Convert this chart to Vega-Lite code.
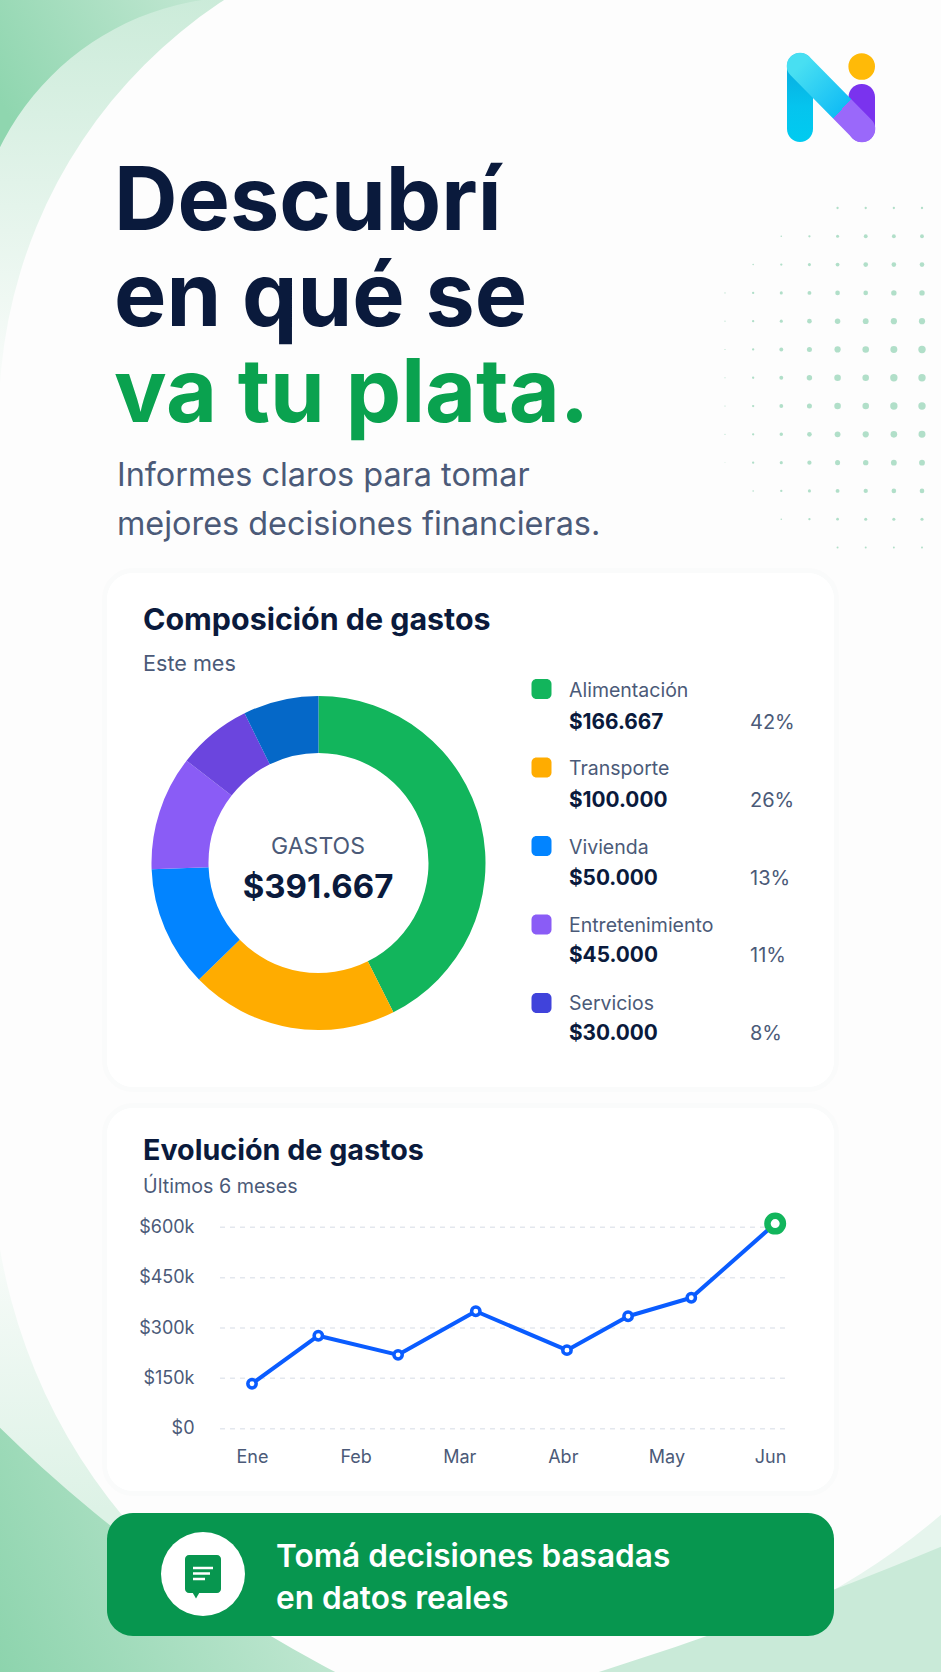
{
"$schema":"https://vega.github.io/schema/vega-lite/v6.json",
"description":"Poster: composicion y evolucion de gastos",
"autosize":{"type":"none"},
"width":941,"height":1672,"padding":0,
"background":"#FDFDFD",
"config":{"view":{"stroke":null},"text":{"font":"Inter"},"axis":{"labelFont":"Inter"}},
"datasets":{
"porciones":[
{"segmento":"Alimentación","parte":42.6,"orden":1},
{"segmento":"Transporte","parte":20.1,"orden":2},
{"segmento":"Vivienda","parte":11.7,"orden":3},
{"segmento":"Entretenimiento","parte":11.1,"orden":4},
{"segmento":"Servicios A","parte":7.2,"orden":5},
{"segmento":"Servicios B","parte":7.3,"orden":6}],
"gastos":[
{"categoria":"Alimentación","monto":"$166.667","porcentaje":"42%"},
{"categoria":"Transporte","monto":"$100.000","porcentaje":"26%"},
{"categoria":"Vivienda","monto":"$50.000","porcentaje":"13%"},
{"categoria":"Entretenimiento","monto":"$45.000","porcentaje":"11%"},
{"categoria":"Servicios","monto":"$30.000","porcentaje":"8%"}],
"serie":[
{"mes":0,"gasto":134000},{"mes":0.64,"gasto":277000},{"mes":1.41,"gasto":220000},{"mes":2.16,"gasto":350000},
{"mes":3.04,"gasto":234000},{"mes":3.63,"gasto":335000},{"mes":4.24,"gasto":390000},{"mes":5.05,"gasto":611000}],
"marcas":[{"valor":0,"extremo":-0.309},{"valor":0,"extremo":5.193},{"valor":150000,"extremo":-0.309},{"valor":150000,"extremo":5.193},{"valor":300000,"extremo":-0.309},{"valor":300000,"extremo":5.193},{"valor":450000,"extremo":-0.309},{"valor":450000,"extremo":5.193},{"valor":600000,"extremo":-0.309},{"valor":600000,"extremo":5.193}],
"puntos":[
{"c":5,"f":1,"r":3},{"c":6,"f":1,"r":3},{"c":7,"f":1,"r":3},{"c":8,"f":1,"r":3},
{"c":3,"f":2,"r":2},{"c":4,"f":2,"r":3},{"c":5,"f":2,"r":4},{"c":6,"f":2,"r":5},{"c":7,"f":2,"r":5},{"c":8,"f":2,"r":5},
{"c":2,"f":3,"r":2},{"c":3,"f":3,"r":3},{"c":4,"f":3,"r":4},{"c":5,"f":3,"r":5},{"c":6,"f":3,"r":6},{"c":7,"f":3,"r":6},{"c":8,"f":3,"r":6},
{"c":1,"f":4,"r":1.5},{"c":2,"f":4,"r":3},{"c":3,"f":4,"r":4},{"c":4,"f":4,"r":5},{"c":5,"f":4,"r":6},{"c":6,"f":4,"r":6},{"c":7,"f":4,"r":7},{"c":8,"f":4,"r":7},
{"c":1,"f":5,"r":1.5},{"c":2,"f":5,"r":3},{"c":3,"f":5,"r":4},{"c":4,"f":5,"r":6},{"c":5,"f":5,"r":7},{"c":6,"f":5,"r":7.5},{"c":7,"f":5,"r":8},{"c":8,"f":5,"r":8},
{"c":1,"f":6,"r":1.5},{"c":2,"f":6,"r":3},{"c":3,"f":6,"r":5},{"c":4,"f":6,"r":6.5},{"c":5,"f":6,"r":8},{"c":6,"f":6,"r":8.5},{"c":7,"f":6,"r":9},{"c":8,"f":6,"r":9.5},
{"c":1,"f":7,"r":1.5},{"c":2,"f":7,"r":3},{"c":3,"f":7,"r":5},{"c":4,"f":7,"r":7},{"c":5,"f":7,"r":8.5},{"c":6,"f":7,"r":8.5},{"c":7,"f":7,"r":9.5},{"c":8,"f":7,"r":9.5},
{"c":1,"f":8,"r":1.5},{"c":2,"f":8,"r":3},{"c":3,"f":8,"r":5},{"c":4,"f":8,"r":6.5},{"c":5,"f":8,"r":8.5},{"c":6,"f":8,"r":8.5},{"c":7,"f":8,"r":9.5},{"c":8,"f":8,"r":9.5},
{"c":1,"f":9,"r":1.5},{"c":2,"f":9,"r":3},{"c":3,"f":9,"r":4.5},{"c":4,"f":9,"r":6},{"c":5,"f":9,"r":7.5},{"c":6,"f":9,"r":8},{"c":7,"f":9,"r":8.5},{"c":8,"f":9,"r":9},
{"c":1,"f":10,"r":1},{"c":2,"f":10,"r":3},{"c":3,"f":10,"r":4},{"c":4,"f":10,"r":5.5},{"c":5,"f":10,"r":6.5},{"c":6,"f":10,"r":7},{"c":7,"f":10,"r":7.5},{"c":8,"f":10,"r":7.5},
{"c":2,"f":11,"r":2},{"c":3,"f":11,"r":3},{"c":4,"f":11,"r":4},{"c":5,"f":11,"r":5},{"c":6,"f":11,"r":5.5},{"c":7,"f":11,"r":6},{"c":8,"f":11,"r":6},
{"c":3,"f":12,"r":2},{"c":4,"f":12,"r":3},{"c":5,"f":12,"r":3.5},{"c":6,"f":12,"r":4},{"c":7,"f":12,"r":4},{"c":8,"f":12,"r":4},
{"c":5,"f":13,"r":2.5},{"c":6,"f":13,"r":2.5},{"c":7,"f":13,"r":2.5},{"c":8,"f":13,"r":2.5}]
},
"resolve":{"scale":{"x":"independent","y":"independent","color":"independent"}},
"layer":[
{"data":{"values":[{"fondo":"velo superior"}]},
 "mark":{"type":"arc","innerRadius":497,"outerRadius":750,"theta":4.712,"theta2":6.283,"fill":{"gradient":"linear","x1":0.5,"y1":0.44,"x2":0.5,"y2":1,"stops":[{"offset":0,"color":"#CBEBD9"},{"offset":1,"color":"#FDFDFD"}]}},
 "encoding":{"x":{"datum":"c","type":"nominal","axis":null,"scale":{"type":"point","domain":["c"],"range":[495,497]}},"y":{"datum":"c","type":"nominal","axis":null,"scale":{"type":"point","domain":["c"],"range":[415,417]}}}},
{"data":{"values":[{"fondo":"esquina superior"}]},
 "mark":{"type":"arc","innerRadius":270,"outerRadius":470,"theta":4.712,"theta2":6.283,"fill":{"gradient":"linear","x1":0.485,"y1":0.646,"x2":0.889,"y2":0.432,"stops":[{"offset":0,"color":"#8FD6AF"},{"offset":1,"color":"#BFE6D0"}]}},
 "encoding":{"x":{"datum":"c","type":"nominal","axis":null,"scale":{"type":"point","domain":["c"],"range":[241,243]}},"y":{"datum":"c","type":"nominal","axis":null,"scale":{"type":"point","domain":["c"],"range":[266,268]}}}},
{"data":{"values":[{"fondo":"velo inferior izquierdo"}]},
 "mark":{"type":"arc","innerRadius":567,"outerRadius":800,"theta":3.32,"theta2":4.712,"fill":{"gradient":"linear","x1":0.5,"y1":0.05,"x2":0.5,"y2":0.45,"stops":[{"offset":0,"color":"#FDFDFD"},{"offset":1,"color":"#DDF2E6"}]}},
 "encoding":{"x":{"datum":"c","type":"nominal","axis":null,"scale":{"type":"point","domain":["c"],"range":[558,560]}},"y":{"datum":"c","type":"nominal","axis":null,"scale":{"type":"point","domain":["c"],"range":[1153,1155]}}}},
{"data":{"values":[{"fondo":"esquina inferior izquierda"}]},
 "mark":{"type":"arc","innerRadius":1412,"outerRadius":2112,"theta":3.142,"theta2":4.712,"fill":{"gradient":"linear","x1":0.531,"y1":0.592,"x2":0.7,"y2":0.52,"stops":[{"offset":0,"color":"#8DD4AD"},{"offset":1,"color":"#CBEBD9"}]}},
 "encoding":{"x":{"datum":"c","type":"nominal","axis":null,"scale":{"type":"point","domain":["c"],"range":[989,991]}},"y":{"datum":"c","type":"nominal","axis":null,"scale":{"type":"point","domain":["c"],"range":[420,422]}}}},
{"data":{"values":[{"fondo":"velo inferior derecho"}]},
 "mark":{"type":"arc","innerRadius":700,"outerRadius":1000,"theta":1.92,"theta2":2.88,"fill":"#E6F5ED"},
 "encoding":{"x":{"datum":"c","type":"nominal","axis":null,"scale":{"type":"point","domain":["c"],"range":[486,488]}},"y":{"datum":"c","type":"nominal","axis":null,"scale":{"type":"point","domain":["c"],"range":[981,983]}}}},
{"data":{"values":[{"fondo":"esquina inferior derecha"}]},
 "mark":{"type":"arc","innerRadius":4027,"outerRadius":4400,"theta":2.62,"theta2":2.97,"fill":"#C9EAD8"},
 "encoding":{"x":{"datum":"c","type":"nominal","axis":null,"scale":{"type":"point","domain":["c"],"range":[-615,-613]}},"y":{"datum":"c","type":"nominal","axis":null,"scale":{"type":"point","domain":["c"],"range":[-2169,-2167]}}}},

{"data":{"name":"puntos"},
 "mark":{"type":"circle","color":"#A9DCC3","opacity":0.9},
 "encoding":{
  "x":{"field":"c","type":"quantitative","axis":null,"scale":{"domain":[1,8],"range":[725,922]}},
  "y":{"field":"f","type":"quantitative","axis":null,"scale":{"domain":[1,13],"range":[208,547.5]}},
  "size":{"field":"r","type":"quantitative","legend":null,"scale":{"type":"pow","exponent":2,"domain":[0,10],"range":[0,60]}}}},

{"data":{"values":[{"trazo":"palo izquierdo"}]},
 "mark":{"type":"rect","cornerRadius":13,"fill":{"gradient":"linear","x1":0,"y1":0,"x2":0,"y2":1,"stops":[{"offset":0,"color":"#0AA6DC"},{"offset":0.6,"color":"#05C4EE"},{"offset":1,"color":"#00CBF0"}]}},
 "encoding":{"x":{"datum":0,"type":"quantitative","axis":null,"scale":{"domain":[0,1],"range":[787,813]}},"x2":{"datum":1},"y":{"datum":0,"type":"quantitative","axis":null,"scale":{"domain":[0,1],"range":[53,142]}},"y2":{"datum":1}}},
{"data":{"values":[{"trazo":"palo derecho"}]},
 "mark":{"type":"rect","cornerRadius":13,"fill":"#7A33EE"},
 "encoding":{"x":{"datum":0,"type":"quantitative","axis":null,"scale":{"domain":[0,1],"range":[848.5,875]}},"x2":{"datum":1},"y":{"datum":0,"type":"quantitative","axis":null,"scale":{"domain":[0,1],"range":[84,142]}},"y2":{"datum":1}}},
{"data":{"values":[{"u":0,"v":0},{"u":1,"v":1}]},
 "mark":{"type":"line","strokeWidth":26.5,"strokeCap":"round","stroke":{"gradient":"linear","x1":0,"y1":0,"x2":1,"y2":1,"stops":[{"offset":0,"color":"#48DFF2"},{"offset":0.68,"color":"#12BDF5"},{"offset":0.68,"color":"#9A68FA"},{"offset":1,"color":"#9A68FA"}]}},
 "encoding":{"x":{"field":"u","type":"quantitative","axis":null,"scale":{"domain":[0,1],"range":[800,862]}},"y":{"field":"v","type":"quantitative","axis":null,"scale":{"domain":[0,1],"range":[66,129]}}}},
{"data":{"values":[{"trazo":"punto del logo"}]},
 "mark":{"type":"circle","color":"#FFBA08","opacity":1,"size":708},
 "encoding":{"x":{"datum":0,"type":"quantitative","axis":null,"scale":{"domain":[0,1],"range":[861.7,862.7]}},"y":{"datum":0,"type":"quantitative","axis":null,"scale":{"domain":[0,1],"range":[66.5,67.5]}}}},

{"data":{"values":[{"linea":1,"texto":"Descubrí"},{"linea":2,"texto":"en qué se"},{"linea":3,"texto":"va tu plata."}]},
 "mark":{"type":"text","align":"left","baseline":"alphabetic","fontSize":88,"fontWeight":700},
 "encoding":{"x":{"datum":0,"type":"quantitative","axis":null,"scale":{"domain":[0,1],"range":[114,115]}},
  "y":{"field":"linea","type":"quantitative","axis":null,"scale":{"domain":[1,3],"range":[230,422]}},
  "text":{"field":"texto"},
  "color":{"condition":{"test":"datum.linea==3","value":"#0AA24F"},"value":"#0A1A3C"}}},
{"data":{"values":[{"linea":1,"texto":"Informes claros para tomar"},{"linea":2,"texto":"mejores decisiones financieras."}]},
 "mark":{"type":"text","align":"left","baseline":"alphabetic","fontSize":32.4,"color":"#4B5A78"},
 "encoding":{"x":{"datum":0,"type":"quantitative","axis":null,"scale":{"domain":[0,1],"range":[117,118]}},
  "y":{"field":"linea","type":"quantitative","axis":null,"scale":{"domain":[1,2],"range":[486,535]}},
  "text":{"field":"texto"}}},

{"data":{"values":[{"tarjeta":"Composición de gastos"}]},
 "mark":{"type":"rect","cornerRadius":26,"fill":"#FFFFFF","stroke":"#1E3A5A","strokeOpacity":0.012,"strokeWidth":10},
 "encoding":{"x":{"datum":0,"type":"quantitative","axis":null,"scale":{"domain":[0,1],"range":[107,834]}},"x2":{"datum":1},"y":{"datum":0,"type":"quantitative","axis":null,"scale":{"domain":[0,1],"range":[573,1087]}},"y2":{"datum":1}}},
{"data":{"values":[{"tarjeta":"Composición de gastos"}]},
 "mark":{"type":"rect","cornerRadius":26,"fill":"#FFFFFF"},
 "encoding":{"x":{"datum":0,"type":"quantitative","axis":null,"scale":{"domain":[0,1],"range":[107,834]}},"x2":{"datum":1},"y":{"datum":0,"type":"quantitative","axis":null,"scale":{"domain":[0,1],"range":[573,1087]}},"y2":{"datum":1}}},
{"data":{"values":[{"tarjeta":"Evolución de gastos"}]},
 "mark":{"type":"rect","cornerRadius":26,"fill":"#FFFFFF","stroke":"#1E3A5A","strokeOpacity":0.012,"strokeWidth":10},
 "encoding":{"x":{"datum":0,"type":"quantitative","axis":null,"scale":{"domain":[0,1],"range":[107,834]}},"x2":{"datum":1},"y":{"datum":0,"type":"quantitative","axis":null,"scale":{"domain":[0,1],"range":[1108,1491]}},"y2":{"datum":1}}},
{"data":{"values":[{"tarjeta":"Evolución de gastos"}]},
 "mark":{"type":"rect","cornerRadius":26,"fill":"#FFFFFF"},
 "encoding":{"x":{"datum":0,"type":"quantitative","axis":null,"scale":{"domain":[0,1],"range":[107,834]}},"x2":{"datum":1},"y":{"datum":0,"type":"quantitative","axis":null,"scale":{"domain":[0,1],"range":[1108,1491]}},"y2":{"datum":1}}},
{"data":{"values":[{"tarjeta":"Tomá decisiones"}]},
 "mark":{"type":"rect","cornerRadius":26,"fill":"#07964F"},
 "encoding":{"x":{"datum":0,"type":"quantitative","axis":null,"scale":{"domain":[0,1],"range":[107,834]}},"x2":{"datum":1},"y":{"datum":0,"type":"quantitative","axis":null,"scale":{"domain":[0,1],"range":[1513,1636]}},"y2":{"datum":1}}},

{"data":{"values":[{"texto":"Composición de gastos"}]},
 "mark":{"type":"text","align":"left","baseline":"alphabetic","fontSize":30.4,"fontWeight":700,"color":"#0A1A3C"},
 "encoding":{"x":{"datum":0,"type":"quantitative","axis":null,"scale":{"domain":[0,1],"range":[143,144]}},"y":{"datum":0,"type":"quantitative","axis":null,"scale":{"domain":[0,1],"range":[630,631]}},"text":{"field":"texto"}}},
{"data":{"values":[{"texto":"Este mes"}]},
 "mark":{"type":"text","align":"left","baseline":"alphabetic","fontSize":21.6,"color":"#4B5A78"},
 "encoding":{"x":{"datum":0,"type":"quantitative","axis":null,"scale":{"domain":[0,1],"range":[143,144]}},"y":{"datum":0,"type":"quantitative","axis":null,"scale":{"domain":[0,1],"range":[671,672]}},"text":{"field":"texto"}}},

{"data":{"name":"porciones"},
 "mark":{"type":"arc","innerRadius":110,"outerRadius":167},
 "encoding":{
  "x":{"datum":"c","type":"nominal","axis":null,"scale":{"type":"point","domain":["c"],"range":[317.5,319.5]}},
  "y":{"datum":"c","type":"nominal","axis":null,"scale":{"type":"point","domain":["c"],"range":[862,864]}},
  "theta":{"field":"parte","type":"quantitative","stack":true},
  "order":{"field":"orden","type":"quantitative"},
  "color":{"field":"segmento","type":"nominal","legend":null,"scale":{"domain":["Alimentación","Transporte","Vivienda","Entretenimiento","Servicios A","Servicios B"],"range":["#12B55C","#FFAC00","#0284FF","#8A5CF6","#6B45DE","#0568C8"]}}}},
{"data":{"values":[{"texto":"GASTOS"}]},
 "mark":{"type":"text","align":"center","baseline":"alphabetic","fontSize":23,"color":"#4B5A78"},
 "encoding":{"x":{"datum":0,"type":"quantitative","axis":null,"scale":{"domain":[0,1],"range":[318,319]}},"y":{"datum":0,"type":"quantitative","axis":null,"scale":{"domain":[0,1],"range":[854,855]}},"text":{"field":"texto"}}},
{"data":{"values":[{"texto":"$391.667"}]},
 "mark":{"type":"text","align":"center","baseline":"alphabetic","fontSize":33,"fontWeight":700,"color":"#0A1A3C"},
 "encoding":{"x":{"datum":0,"type":"quantitative","axis":null,"scale":{"domain":[0,1],"range":[318,319]}},"y":{"datum":0,"type":"quantitative","axis":null,"scale":{"domain":[0,1],"range":[898,899]}},"text":{"field":"texto"}}},

{"data":{"name":"gastos"},
 "mark":{"type":"rect","cornerRadius":5},
 "encoding":{
  "x":{"datum":0,"type":"quantitative","axis":null,"scale":{"domain":[0,1],"range":[531.5,551.5]}},
  "x2":{"datum":1},
  "y":{"field":"categoria","type":"nominal","axis":null,"sort":null,"scale":{"type":"band","paddingInner":0.745,"paddingOuter":0,"range":[679,1013]}},
  "color":{"field":"categoria","type":"nominal","legend":null,"scale":{"domain":["Alimentación","Transporte","Vivienda","Entretenimiento","Servicios"],"range":["#12B55C","#FFAC00","#0284FF","#8A5CF6","#4043DB"]}}}},
{"data":{"name":"gastos"},
 "mark":{"type":"text","align":"left","baseline":"alphabetic","fontSize":19.5,"color":"#4B5A78"},
 "encoding":{
  "x":{"datum":0,"type":"quantitative","axis":null,"scale":{"domain":[0,1],"range":[569,570]}},
  "y":{"field":"categoria","type":"nominal","axis":null,"sort":null,"scale":{"type":"point","padding":0,"range":[697,1010]}},
  "text":{"field":"categoria"}}},
{"data":{"name":"gastos"},
 "mark":{"type":"text","align":"left","baseline":"alphabetic","fontSize":20.8,"fontWeight":700,"color":"#0A1A3C"},
 "encoding":{
  "x":{"datum":0,"type":"quantitative","axis":null,"scale":{"domain":[0,1],"range":[569,570]}},
  "y":{"field":"categoria","type":"nominal","axis":null,"sort":null,"scale":{"type":"point","padding":0,"range":[729,1040]}},
  "text":{"field":"monto"}}},
{"data":{"name":"gastos"},
 "mark":{"type":"text","align":"left","baseline":"alphabetic","fontSize":20,"color":"#4B5A78"},
 "encoding":{
  "x":{"datum":0,"type":"quantitative","axis":null,"scale":{"domain":[0,1],"range":[750,751]}},
  "y":{"field":"categoria","type":"nominal","axis":null,"sort":null,"scale":{"type":"point","padding":0,"range":[729,1040]}},
  "text":{"field":"porcentaje"}}},

{"data":{"values":[{"texto":"Evolución de gastos"}]},
 "mark":{"type":"text","align":"left","baseline":"alphabetic","fontSize":28.7,"fontWeight":700,"color":"#0A1A3C"},
 "encoding":{"x":{"datum":0,"type":"quantitative","axis":null,"scale":{"domain":[0,1],"range":[143,144]}},"y":{"datum":0,"type":"quantitative","axis":null,"scale":{"domain":[0,1],"range":[1160,1161]}},"text":{"field":"texto"}}},
{"data":{"values":[{"texto":"Últimos 6 meses"}]},
 "mark":{"type":"text","align":"left","baseline":"alphabetic","fontSize":19.7,"color":"#4B5A78"},
 "encoding":{"x":{"datum":0,"type":"quantitative","axis":null,"scale":{"domain":[0,1],"range":[143,144]}},"y":{"datum":0,"type":"quantitative","axis":null,"scale":{"domain":[0,1],"range":[1193,1194]}},"text":{"field":"texto"}}},

{"data":{"name":"marcas"},
 "mark":{"type":"line","color":"#E3E7EE","strokeWidth":1.5,"strokeDash":[5,5]},
 "encoding":{
  "x":{"field":"extremo","type":"quantitative","axis":null,"scale":{"domain":[-0.309,5.193],"range":[220,790]}},
  "detail":{"field":"valor","type":"nominal"},
  "y":{"field":"valor","type":"quantitative","scale":{"domain":[0,600000],"range":[1428.7,1227.3]},
   "axis":{"orient":"left","offset":-194,"zindex":1,"values":[0,150000,300000,450000,600000],"labelExpr":"datum.value==0?'$0':'$'+datum.value/1000+'k'","domain":false,"ticks":false,"grid":false,"title":null,"labelPadding":0,"labelFontSize":18,"labelColor":"#4B5A78","labelFlush":false}}}},
{"data":{"name":"serie"},
 "mark":{"type":"line","color":"#0A5CFF","strokeWidth":4,"strokeJoin":"round"},
 "encoding":{
  "x":{"field":"mes","type":"quantitative","scale":{"domain":[-0.309,5.193],"range":[220,790]},
   "axis":{"orient":"bottom","offset":-210,"zindex":1,"values":[0,1,2,3,4,5],"labelExpr":"['Ene','Feb','Mar','Abr','May','Jun'][datum.value]","domain":false,"ticks":false,"grid":false,"title":null,"labelPadding":0,"labelBaseline":"alphabetic","labelFontSize":18,"labelColor":"#4B5A78","labelFlush":false}},
  "y":{"field":"gasto","type":"quantitative","axis":null,"scale":{"domain":[0,600000],"range":[1428.7,1227.3]}}}},
{"data":{"name":"serie"},
 "transform":[{"filter":"datum.mes<5"}],
 "mark":{"type":"point","shape":"circle","filled":true,"fill":"#FFFFFF","stroke":"#0A5CFF","strokeWidth":3.5,"size":70,"opacity":1},
 "encoding":{
  "x":{"field":"mes","type":"quantitative","axis":null,"scale":{"domain":[-0.309,5.193],"range":[220,790]}},
  "y":{"field":"gasto","type":"quantitative","axis":null,"scale":{"domain":[0,600000],"range":[1428.7,1227.3]}}}},
{"data":{"name":"serie"},
 "transform":[{"filter":"datum.mes>=5"}],
 "mark":{"type":"point","shape":"circle","filled":true,"fill":"#FFFFFF","stroke":"#12B55C","strokeWidth":6.5,"size":240,"opacity":1},
 "encoding":{
  "x":{"field":"mes","type":"quantitative","axis":null,"scale":{"domain":[-0.309,5.193],"range":[220,790]}},
  "y":{"field":"gasto","type":"quantitative","axis":null,"scale":{"domain":[0,600000],"range":[1428.7,1227.3]}}}},

{"data":{"values":[{"forma":"circulo del icono"}]},
 "mark":{"type":"circle","color":"#FFFFFF","opacity":1,"size":7056},
 "encoding":{"x":{"datum":0,"type":"quantitative","axis":null,"scale":{"domain":[0,1],"range":[203,204]}},"y":{"datum":0,"type":"quantitative","axis":null,"scale":{"domain":[0,1],"range":[1574,1575]}}}},
{"data":{"values":[{"forma":"globo"}]},
 "mark":{"type":"rect","cornerRadius":4,"fill":"#07964F"},
 "encoding":{"x":{"datum":0,"type":"quantitative","axis":null,"scale":{"domain":[0,1],"range":[185,221]}},"x2":{"datum":1},"y":{"datum":0,"type":"quantitative","axis":null,"scale":{"domain":[0,1],"range":[1555,1593]}},"y2":{"datum":1}}},
{"data":{"values":[{"forma":"cola del globo"}]},
 "mark":{"type":"point","shape":"triangle-down","filled":true,"color":"#07964F","opacity":1,"size":110},
 "encoding":{"x":{"datum":0,"type":"quantitative","axis":null,"scale":{"domain":[0,1],"range":[196,197]}},"y":{"datum":0,"type":"quantitative","axis":null,"scale":{"domain":[0,1],"range":[1594,1595]}}}},
{"data":{"values":[{"linea":1,"u":0},{"linea":1,"u":1},{"linea":2,"u":0},{"linea":2,"u":0.85},{"linea":3,"u":0},{"linea":3,"u":0.6}]},
 "mark":{"type":"line","color":"#FFFFFF","strokeWidth":2.5},
 "encoding":{"x":{"field":"u","type":"quantitative","axis":null,"scale":{"domain":[0,1],"range":[193,213]}},"detail":{"field":"linea","type":"nominal"},"y":{"field":"linea","type":"quantitative","axis":null,"scale":{"domain":[1,3],"range":[1568,1579]}}}},
{"data":{"values":[{"linea":1,"texto":"Tomá decisiones basadas"},{"linea":2,"texto":"en datos reales"}]},
 "mark":{"type":"text","align":"left","baseline":"alphabetic","fontSize":31.6,"fontWeight":600,"color":"#FFFFFF"},
 "encoding":{"x":{"datum":0,"type":"quantitative","axis":null,"scale":{"domain":[0,1],"range":[276,277]}},
  "y":{"field":"linea","type":"quantitative","axis":null,"scale":{"domain":[1,2],"range":[1567,1609]}},
  "text":{"field":"texto"}}}
]
}
